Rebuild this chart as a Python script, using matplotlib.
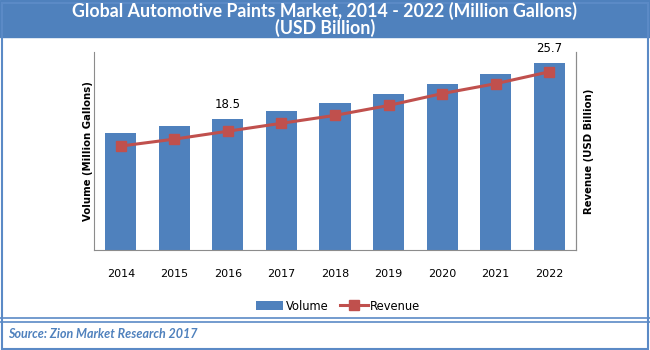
import matplotlib.pyplot as plt
from matplotlib.patches import Rectangle
from matplotlib.lines import Line2D
import numpy as np

years = ["2014", "2015", "2016", "2017", "2018", "2019", "2020", "2021", "2022"]
volume = [16.7, 17.6, 18.5, 19.5, 20.6, 21.7, 23.0, 24.3, 25.7]   # million gallons
revenue = [10.5, 11.2, 12.0, 12.8, 13.6, 14.6, 15.8, 16.8, 18.0]   # USD billion (no axis ticks in source)
labelled = {"2016": "18.5", "2022": "25.7"}

blue = "#4f81bd"
red = "#c0504d"
frame = "#5b8ac6"

fig = plt.figure(figsize=(6.5, 3.5), dpi=100)

# title band + outer frame + source box
fig.patches.append(Rectangle((0, 1 - 37 / 350), 1, 37 / 350, transform=fig.transFigure,
                             color=blue, zorder=0))
fig.patches.append(Rectangle((1.5 / 650, 1.5 / 350), 646 / 650, 346 / 350, transform=fig.transFigure,
                             fill=False, edgecolor=frame, lw=1.5, zorder=1))
for yy in (318, 321.5):
    fig.lines.append(Line2D([0, 1], [1 - yy / 350] * 2, transform=fig.transFigure,
                            color=frame, lw=1.2))

fig.text(0.5, 1 - 11 / 350, "Global Automotive Paints Market, 2014 - 2022 (Million Gallons)",
         ha="center", va="center", color="white", fontsize=12.8, fontweight="bold", family="Lato")
fig.text(0.5, 1 - 28 / 350, "(USD Billion)",
         ha="center", va="center", color="white", fontsize=12.8, fontweight="bold", family="Lato")
fig.text(8 / 650, 1 - 334 / 350, "Source: Zion Market Research 2017", ha="left", va="center",
         color=blue, fontsize=9, fontstyle="italic", fontweight="bold", family="Lato")

ax = fig.add_axes([94 / 650, 100 / 350, 482 / 650, 198 / 350])
x = np.arange(len(years))
bars = ax.bar(x, volume, width=0.58, color=blue, label="Volume", zorder=2)
ax.set_xlim(-0.5, len(years) - 0.5)
ax.set_ylim(1.66, 27.1)
for i, yr in enumerate(years):
    if yr in labelled:
        ax.text(i, volume[i] + 1.0, labelled[yr], ha="center", va="bottom", fontsize=8.5)

ax.set_xticks(x)
ax.set_xticklabels(years, fontsize=8)
ax.tick_params(axis="x", length=0, pad=14)
ax.set_yticks([])
ax.spines["top"].set_visible(False)
for s in ("left", "bottom", "right"):
    ax.spines[s].set_color("#8c8c8c")
ax.set_ylabel("Volume (Million Gallons)", fontsize=7.3, fontweight="bold", labelpad=1)

ax2 = ax.twinx()
ln, = ax2.plot(x, revenue, color=red, lw=2.2, marker="s", markersize=6.5, label="Revenue", zorder=3)
ax2.set_ylim(0, 20)
ax2.set_yticks([])
ax2.spines["top"].set_visible(False)
ax2.spines["right"].set_color("#8c8c8c")
ax2.spines["left"].set_visible(False)
ax2.spines["bottom"].set_visible(False)
ax2.set_ylabel("Revenue (USD Billion)", fontsize=7.3, fontweight="bold", labelpad=6)

fig.legend([bars, ln], ["Volume", "Revenue"], loc="center", bbox_to_anchor=(338 / 650, 1 - 306 / 350),
           ncol=2, frameon=False, fontsize=8.3, handlelength=2.4, columnspacing=1.0,
           handletextpad=0.2)

fig.savefig("out.png", dpi=100)
